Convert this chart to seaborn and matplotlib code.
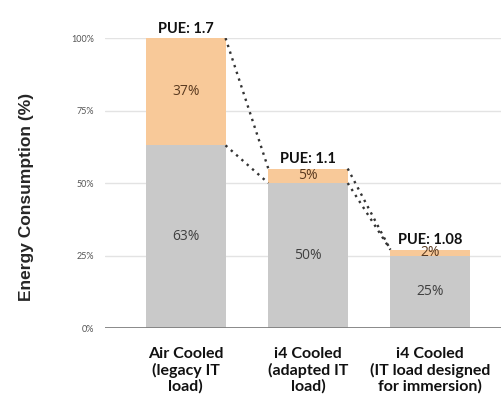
import numpy as np
import seaborn as sns
import matplotlib.pyplot as plt
import pandas as pd

categories = ["Air Cooled\n(legacy IT\nload)", "i4 Cooled\n(adapted IT\nload)",
              "i4 Cooled\n(IT load designed\nfor immersion)"]
it_load = [63, 50, 25]
cooling = [37, 5, 2]
pue_labels = ["PUE: 1.7", "PUE: 1.1", "PUE: 1.08"]
yticks = [0, 25, 50, 75, 100]

df = pd.DataFrame({"cat": categories, "it": it_load, "cool": cooling})
df["total"] = df["it"] + df["cool"]

sns.set_style("white")
plt.rcParams["font.family"] = ["Lato", "DejaVu Sans"]

orange = "#f8c999"
grey = "#c9c9c9"
w = 0.65

fig = plt.figure(figsize=(5.01, 4.01), dpi=100)
ax = fig.add_axes([0.21, 0.182, 0.79, 0.723])

for y in yticks[1:]:
    ax.axhline(y, color="#e3e3e3", lw=1, zorder=0)

sns.barplot(data=df, x="cat", y="total", color=orange, width=w, saturation=1,
            linewidth=0, ax=ax, zorder=2)
sns.barplot(data=df, x="cat", y="it", color=grey, width=w, saturation=1,
            linewidth=0, ax=ax, zorder=3)

# dotted connectors between neighbouring bars
for i in range(len(df) - 1):
    x0, x1 = i + w / 2, i + 1 - w / 2
    ax.plot([x0, x1], [df.total[i], df.total[i + 1]], ls=(0, (1, 2)), color="#333333", lw=1.7, zorder=4)
    ax.plot([x0, x1], [df.it[i], df.total[i + 1] if i == 1 else df.it[i + 1]],
            ls=(0, (1, 2)), color="#333333", lw=1.7, zorder=4)

for i in range(len(df)):
    ax.text(i, df.it[i] / 2, f"{df.it[i]}%", ha="center", va="center",
            fontsize=10, color="#404040", family=["Open Sans", "DejaVu Sans"], zorder=5)
    ax.text(i, df.it[i] + df.cool[i] / 2, f"{df.cool[i]}%", ha="center", va="center",
            fontsize=10, color="#5a3a20", family=["Open Sans", "DejaVu Sans"], zorder=5)
    ax.text(i, df.total[i] + 3.3, pue_labels[i], ha="center", va="center",
            fontsize=10.5, fontweight="bold", color="#111111", zorder=6, clip_on=False)

ax.axhline(0, color="#808080", lw=1.3, zorder=6)
ax.set_xlim(-0.66, 2.58)
ax.set_ylim(0, 100)
ax.set_yticks(yticks)
ax.set_yticklabels([f"{t}%" for t in yticks], fontsize=6.5, color="#555555")
ax.tick_params(axis="y", length=0, pad=8)
ax.tick_params(axis="x", length=0, pad=14)
for lab in ax.get_xticklabels():
    lab.set_fontweight("bold")
    lab.set_fontsize(11.5)
    lab.set_color("#111111")
    lab.set_linespacing(1.1)
ax.set_xlabel("")
ax.set_ylabel("Energy Consumption (%)", fontsize=12.5, fontweight="bold",
              family=["Liberation Sans", "DejaVu Sans"])
ax.yaxis.set_label_coords(-0.18, 0.452)
for s in ax.spines.values():
    s.set_visible(False)

fig.savefig("out.png", dpi=100)
